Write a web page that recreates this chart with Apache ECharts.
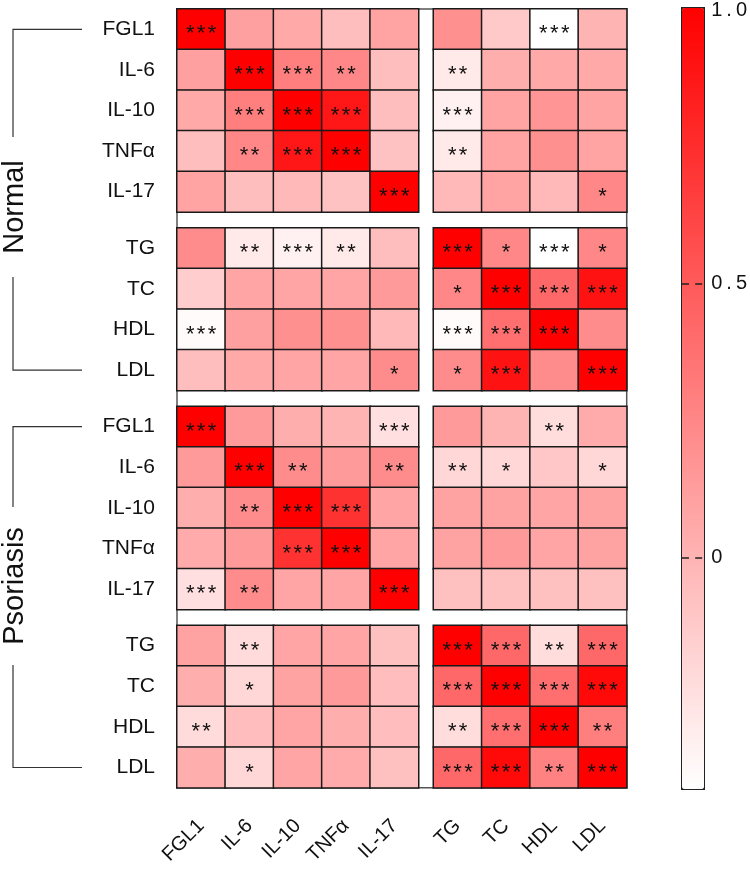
<!DOCTYPE html>
<html><head><meta charset="utf-8">
<script src="https://cdn.jsdelivr.net/npm/echarts@6/dist/echarts.min.js"></script>
<style>html,body{margin:0;padding:0;background:#fff}#c{width:750px;height:869px}</style>
</head><body><div id="c"></div>
<script>
// ---------- data ----------
const immuneLabels = ['FGL1', 'IL-6', 'IL-10', 'TNFα', 'IL-17'];
const lipidLabels = ['TG', 'TC', 'HDL', 'LDL'];
const groupLabels = ['Normal', 'Psoriasis'];

// rows/cols order: FGL1, IL-6, IL-10, TNFα, IL-17, TG, TC, HDL, LDL
const normalValues = [
  [ 1.00,  0.11,  0.06, -0.06,  0.09,  0.20, -0.12, -0.42,  0.00],
  [ 0.11,  1.00,  0.30,  0.25, -0.06, -0.30,  0.03,  0.06,  0.06],
  [ 0.06,  0.30,  1.00,  0.88, -0.06, -0.34,  0.09,  0.17,  0.09],
  [-0.06,  0.25,  0.88,  1.00, -0.08, -0.30,  0.09,  0.20,  0.09],
  [ 0.09, -0.06, -0.03, -0.08,  1.00, -0.03,  0.09, -0.03,  0.25],
  [ 0.22, -0.30, -0.34, -0.30, -0.06,  1.00,  0.25, -0.42,  0.25],
  [-0.14,  0.08,  0.08,  0.08,  0.14,  0.25,  1.00,  0.42,  0.90],
  [-0.40,  0.11,  0.20,  0.20, -0.03, -0.40,  0.38,  1.00,  0.22],
  [-0.06,  0.06,  0.08,  0.08,  0.22,  0.22,  0.90,  0.22,  1.00]
];
const normalStars = [
  ['***', '', '', '', '', '', '', '***', ''],
  ['', '***', '***', '**', '', '**', '', '', ''],
  ['', '***', '***', '***', '', '***', '', '', ''],
  ['', '**', '***', '***', '', '**', '', '', ''],
  ['', '', '', '', '***', '', '', '', '*'],
  ['', '**', '***', '**', '', '***', '*', '***', '*'],
  ['', '', '', '', '', '*', '***', '***', '***'],
  ['***', '', '', '', '', '***', '***', '***', ''],
  ['', '', '', '', '*', '*', '***', '', '***']
];
const psoriasisValues = [
  [ 1.00,  0.14,  0.03,  0.00, -0.24,  0.14,  0.00, -0.23,  0.05],
  [ 0.14,  1.00,  0.22,  0.14,  0.22, -0.20, -0.20, -0.11, -0.20],
  [ 0.03,  0.22,  1.00,  0.72,  0.08,  0.10,  0.10,  0.08,  0.10],
  [ 0.05,  0.14,  0.72,  1.00,  0.08,  0.10,  0.14,  0.08,  0.10],
  [-0.24,  0.22,  0.08,  0.08,  1.00, -0.07, -0.07, -0.07, -0.07],
  [ 0.10, -0.22,  0.08,  0.08, -0.07,  1.00,  0.42, -0.23,  0.42],
  [ 0.03, -0.20,  0.10,  0.14, -0.05,  0.42,  1.00,  0.38,  0.95],
  [-0.22, -0.05,  0.08,  0.03, -0.05, -0.23,  0.38,  1.00,  0.30],
  [ 0.03, -0.20,  0.08,  0.05, -0.07,  0.42,  0.95,  0.28,  1.00]
];
const psoriasisStars = [
  ['***', '', '', '', '***', '', '', '**', ''],
  ['', '***', '**', '', '**', '**', '*', '', '*'],
  ['', '**', '***', '***', '', '', '', '', ''],
  ['', '', '***', '***', '', '', '', '', ''],
  ['***', '**', '', '', '***', '', '', '', ''],
  ['', '**', '', '', '', '***', '***', '**', '***'],
  ['', '*', '', '', '', '***', '***', '***', '***'],
  ['**', '', '', '', '', '**', '***', '***', '**'],
  ['', '*', '', '', '', '***', '***', '**', '***']
];
const colorbarMin = -0.42;
const colorbarMax = 1.0;
const colorbarTicks = [0, 0.5, 1.0];
const colorbarTickLabels = ['0', '0.5', '1.0'];

// ---------- layout ----------
const FONT = '"Liberation Sans", Arimo, Arial, sans-serif';
const L = { left: 177, top: 9, cellW: 48.3, cellH: 40.6, gapX: 15, gapY: 16 };
const colBlocks = [immuneLabels, lipidLabels];
const rowBlocks = [immuneLabels, lipidLabels, immuneLabels, lipidLabels];
const matrices = [normalValues, psoriasisValues];
const starMats = [normalStars, psoriasisStars];

function colStart(cb) { return L.left + (cb === 0 ? 0 : immuneLabels.length * L.cellW + L.gapX); }
function rowStart(rb) {
  let y = L.top;
  for (let i = 0; i < rb; i++) y += rowBlocks[i].length * L.cellH + L.gapY;
  return y;
}

const grids = [], xAxes = [], yAxes = [], series = [];
let gi = 0;
for (let rb = 0; rb < 4; rb++) {
  const group = rb < 2 ? 0 : 1;
  const rowOff = (rb % 2) * immuneLabels.length;
  for (let cb = 0; cb < 2; cb++) {
    const colOff = cb * immuneLabels.length;
    const cols = colBlocks[cb], rows = rowBlocks[rb];
    grids.push({ left: colStart(cb), top: rowStart(rb), width: cols.length * L.cellW, height: rows.length * L.cellH });
    xAxes.push({
      gridIndex: gi, type: 'category', data: cols,
      axisLine: { show: false }, axisTick: { show: false }, splitLine: { show: false },
      axisLabel: { show: rb === 3, rotate: 45, margin: 35, fontSize: 20, color: '#111', fontFamily: FONT, interval: 0 }
    });
    yAxes.push({
      gridIndex: gi, type: 'category', data: rows, inverse: true,
      axisLine: { show: false }, axisTick: { show: false }, splitLine: { show: false },
      axisLabel: { show: cb === 0, margin: 22, fontSize: 21, color: '#111', fontFamily: FONT, interval: 0 }
    });
    const data = [];
    for (let yi = 0; yi < rows.length; yi++) {
      for (let xi = 0; xi < cols.length; xi++) {
        data.push({
          value: [xi, yi, matrices[group][rowOff + yi][colOff + xi]],
          stars: starMats[group][rowOff + yi][colOff + xi]
        });
      }
    }
    series.push({
      type: 'heatmap', xAxisIndex: gi, yAxisIndex: gi, data: data, z: 2,
      itemStyle: { borderColor: '#1a1a1a', borderWidth: 1.5 },
      emphasis: { disabled: true },
      label: {
        show: true, fontSize: 22, color: '#111', fontFamily: FONT, offset: [0, 5],
        formatter: p => p.data.stars.split('').map(c => '{s|' + c + '}').join(''),
        rich: {
          s: { fontSize: 22, color: '#111', fontFamily: FONT, padding: [0, 1.2] }
        }
      }
    });
    gi++;
  }
}

// colorbar axis grid (overlay on the visualMap bar)
const CB = { left: 681, top: 7, width: 22, height: 781 };
grids.push({ left: CB.left, top: CB.top, width: CB.width, height: CB.height, z: 10 });
xAxes.push({ gridIndex: gi, type: 'value', show: false });
yAxes.push({
  gridIndex: gi, type: 'value', min: colorbarMin, max: colorbarMax, position: 'left', z: 20,
  axisLine: { show: false }, splitLine: { show: false },
  axisTick: { show: true, inside: true, length: 8, customValues: [0, 0.5], lineStyle: { color: '#222', width: 1.5 } },
  axisLabel: { show: false }
});
yAxes.push({
  gridIndex: gi, type: 'value', min: colorbarMin, max: colorbarMax, position: 'right', z: 20,
  axisLine: { show: false }, splitLine: { show: false },
  axisTick: { show: true, inside: true, length: 7, customValues: [0, 0.5], lineStyle: { color: '#222', width: 1.5 } },
  axisLabel: {
    customValues: colorbarTicks, margin: 9, fontSize: 20, color: '#111', fontFamily: FONT,
    formatter: v => {
      const i = colorbarTicks.findIndex(t => Math.abs(t - v) < 1e-9);
      return (i >= 0 ? colorbarTickLabels[i] : '').split('').join('\u2009');
    }
  }
});

// decorations: frame, group labels, brackets
const totalW = 9 * L.cellW + L.gapX;
const totalH = rowStart(3) + lipidLabels.length * L.cellH - L.top;
function rowCenter(rb, r) { return rowStart(rb) + (r + 0.5) * L.cellH; }
const groupLabelY = [207, 586];
const groupGapHalf = [70, 79];
const graphics = [{
  type: 'rect', z: 0, shape: { x: L.left, y: L.top, width: totalW, height: totalH },
  style: { fill: '#fff', stroke: '#555', lineWidth: 1.5 }
}];
for (let g = 0; g < 2; g++) {
  const yTop = rowCenter(g * 2, 0), yBot = rowCenter(g * 2 + 1, lipidLabels.length - 1);
  const cy = groupLabelY[g], gh = groupGapHalf[g];
  graphics.push({
    type: 'polyline', z: 0, shape: { points: [[82, yTop], [13, yTop], [13, cy - gh]] },
    style: { stroke: '#333', lineWidth: 1.2, fill: null }
  });
  graphics.push({
    type: 'polyline', z: 0, shape: { points: [[13, cy + gh], [13, yBot], [82, yBot]] },
    style: { stroke: '#333', lineWidth: 1.2, fill: null }
  });
  graphics.push({
    type: 'text', z: 1, x: 15, y: cy, rotation: Math.PI / 2,
    style: { text: groupLabels[g], fontSize: 29, fontFamily: FONT, fill: '#111', align: 'center', verticalAlign: 'middle' }
  });
}

const chart = echarts.init(document.getElementById('c'), null, { renderer: 'canvas' });
chart.setOption({
  backgroundColor: '#fff',
  animation: false,
  grid: grids,
  xAxis: xAxes,
  yAxis: yAxes,
  visualMap: {
    type: 'continuous', min: colorbarMin, max: colorbarMax, calculable: false,
    seriesIndex: series.map((s, i) => i),
    inRange: { color: ['#ffffff', '#ff0000'] },
    left: CB.left, top: CB.top, itemWidth: CB.width, itemHeight: CB.height,
    text: null, padding: 0, borderColor: '#222', borderWidth: 2, hoverLink: false, z: 1
  },
  graphic: graphics,
  series: series
});
</script></body></html>
